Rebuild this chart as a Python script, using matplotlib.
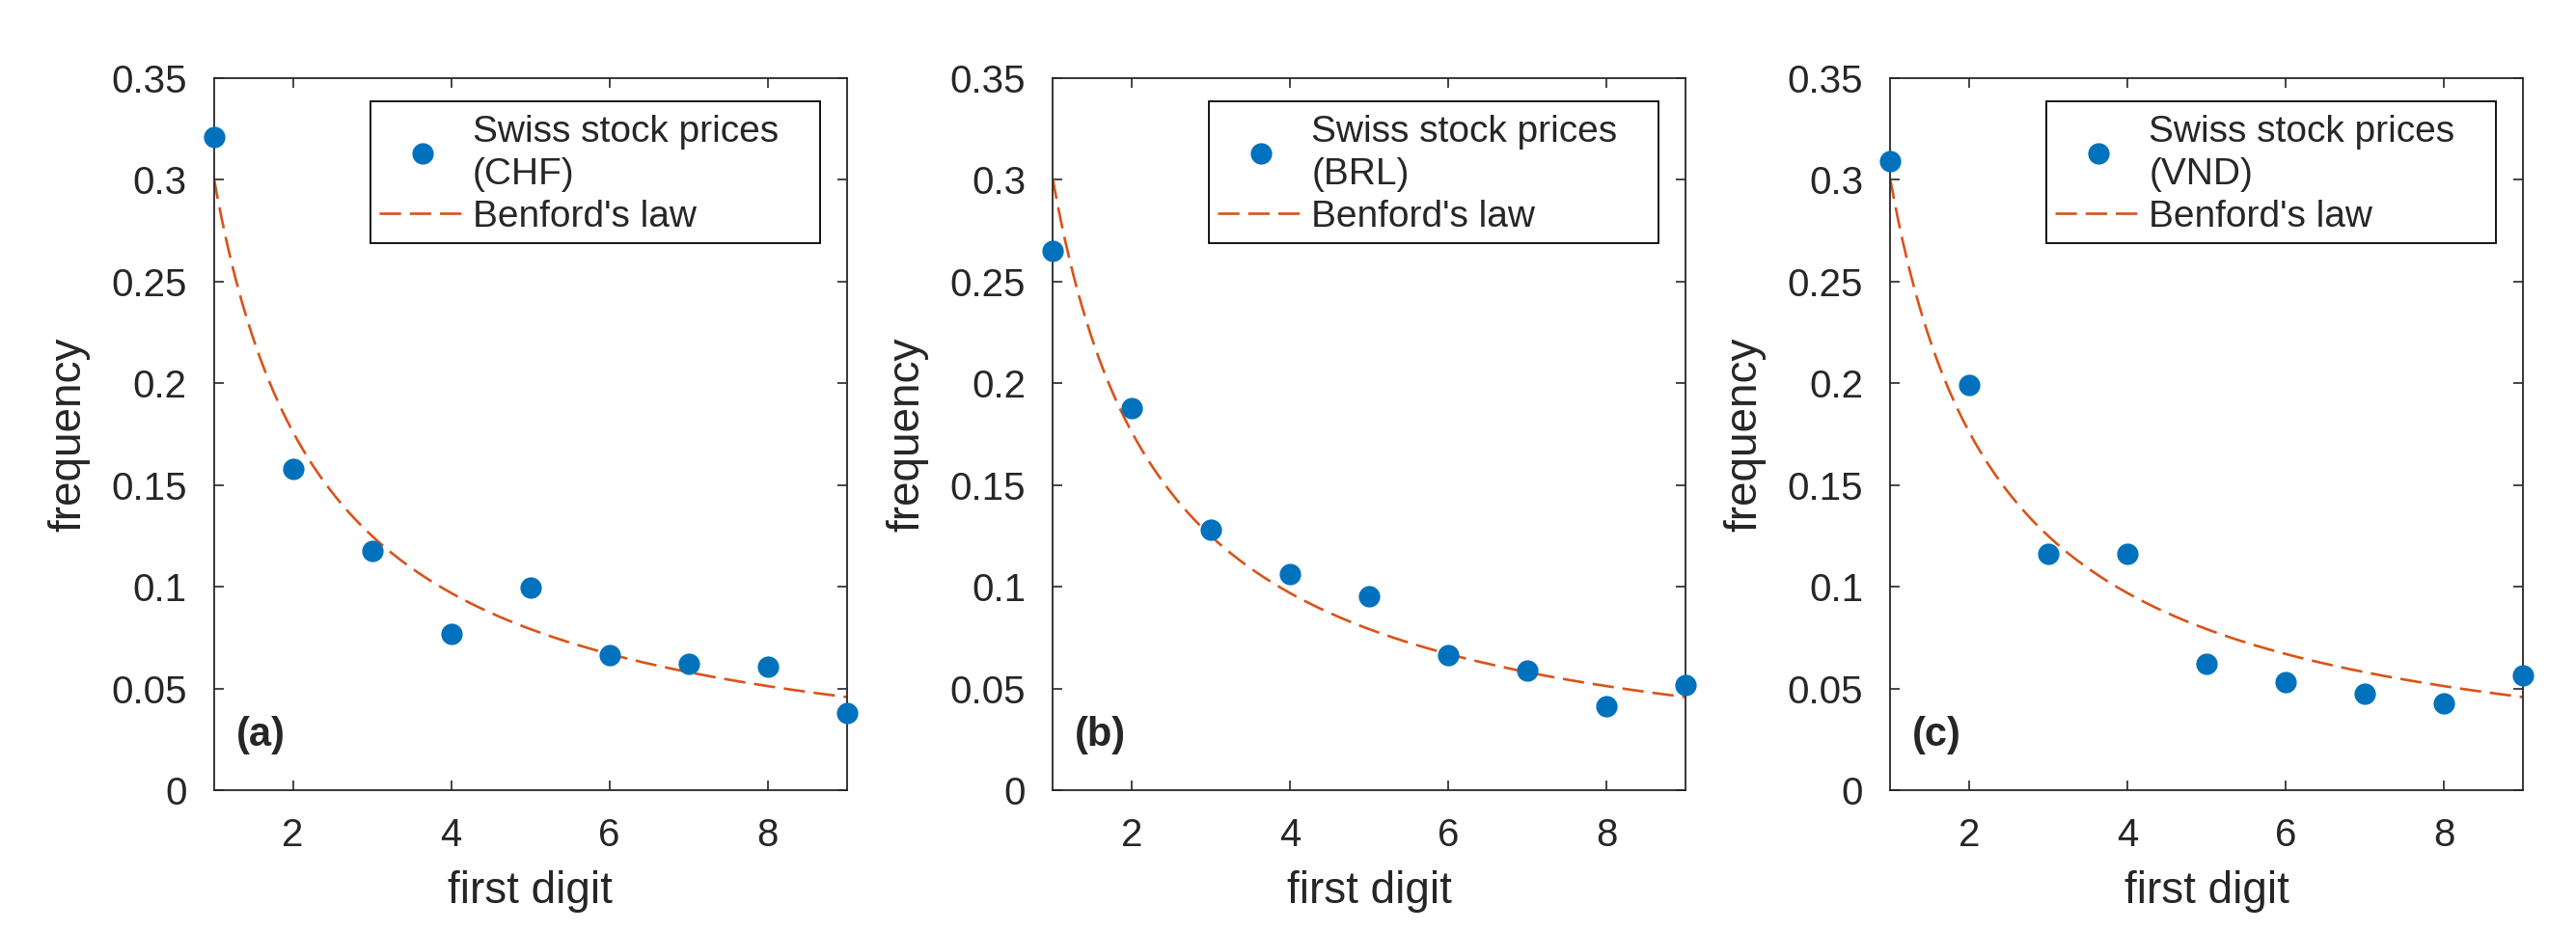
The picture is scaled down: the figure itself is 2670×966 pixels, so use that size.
import numpy as np
import matplotlib
matplotlib.use("Agg")
import matplotlib.pyplot as plt
from matplotlib.patches import Rectangle

plt.rcParams['font.family'] = ['Liberation Sans', 'DejaVu Sans']
plt.rcParams['lines.scale_dashes'] = False

# data
digits = [1, 2, 3, 4, 5, 6, 7, 8, 9]
freq_chf = [0.321, 0.158, 0.1175, 0.077, 0.0998, 0.0665, 0.0621, 0.0607, 0.038]
freq_brl = [0.265, 0.188, 0.128, 0.106, 0.0954, 0.0665, 0.0589, 0.0411, 0.0516]
freq_vnd = [0.309, 0.199, 0.1164, 0.1164, 0.0621, 0.0531, 0.0473, 0.0426, 0.0563]
currencies = ['CHF', 'BRL', 'VND']
panel_tags = ['(a)', '(b)', '(c)']
yticks = [0, 0.05, 0.1, 0.15, 0.2, 0.25, 0.3, 0.35]
ytick_labels = ['0', '0.05', '0.1', '0.15', '0.2', '0.25', '0.3', '0.35']
xticks = [2, 4, 6, 8]

# Benford's law, P(d) = log10(1 + 1/d), drawn as a smooth curve
d_curve = np.linspace(1, 9, 300)
benford = np.log10(1 + 1 / d_curve)

blue = '#0072BD'
orange = '#D95319'
dark = '#262626'

fig = plt.figure(figsize=(26.7, 9.66), dpi=100)
lefts = [0.0830, 0.4086, 0.7337]

for left, freq, cur, tag in zip(lefts, [freq_chf, freq_brl, freq_vnd], currencies, panel_tags):
    ax = fig.add_axes([left, 0.1522, 0.2457, 0.764])
    ax.plot(digits, freq, 'o', color=blue, markersize=16, markeredgewidth=0,
            clip_on=False, zorder=3, label='Swiss stock prices\n(' + cur + ')')
    ax.plot(d_curve, benford, color=orange, linewidth=1.9, dashes=(16, 6.5),
            label="Benford's law")
    ax.set_xlim(1, 9)
    ax.set_ylim(0, 0.35)
    ax.set_xticks(xticks)
    ax.set_yticks(yticks)
    ax.set_yticklabels(ytick_labels)
    ax.tick_params(direction='in', top=True, right=True, length=7, width=1.2,
                   labelsize=29, pad=20, colors=dark)
    for s in ax.spines.values():
        s.set_color(dark)
        s.set_linewidth(1.3)
    ax.set_xlabel('first digit', fontsize=33, color=dark)
    ax.set_ylabel('frequency', fontsize=33, color=dark)
    ax.xaxis.set_label_coords(0.5, -0.1124)
    ax.yaxis.set_label_coords(-0.196, 0.5)
    ax.text(0.0355, 0.077, tag, transform=ax.transAxes, fontsize=30,
            fontweight='bold', ha='left', va='center', color=dark)

    # legend box (MATLAB style, wider than its contents)
    box = Rectangle((0.2474, 0.768), 0.9578 - 0.2474, 0.967 - 0.768,
                    transform=ax.transAxes, facecolor='white', edgecolor='black',
                    linewidth=1.3, zorder=4.5)
    ax.add_patch(box)
    leg = ax.legend(loc='upper left', bbox_to_anchor=(0.261, 0.949), borderaxespad=0,
                    fontsize=28, frameon=False, handlelength=2.3, handletextpad=0.2,
                    borderpad=0, labelspacing=0.2)
    leg.set_zorder(5)
    for t in leg.get_texts():
        t.set_color(dark)
        t.set_linespacing(1.3)

fig.savefig('out.png', dpi=100, facecolor='white')
